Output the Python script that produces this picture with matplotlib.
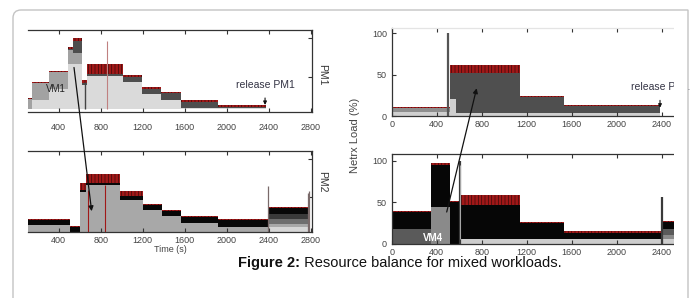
import numpy as np
import matplotlib
matplotlib.use('Agg')
import matplotlib.pyplot as plt
from matplotlib.patches import Rectangle, ConnectionPatch, PathPatch
from matplotlib.path import Path
from matplotlib.transforms import IdentityTransform
from matplotlib.text import Annotation

plt.rcParams['font.family'] = ['Liberation Sans', 'DejaVu Sans']
plt.rcParams['hatch.linewidth'] = 0.5

# ---------------- data ----------------
# PM1 CPU stack (top-left)
pm1_edges = [108, 150, 310, 490, 535, 620, 670, 1010, 1195, 1375, 1560, 1920, 2375]
pm1_light = [9, 21, 35, 66, 66, 40, 51, 43, 28, 20, 10, 10]
pm1_gray = [22, 42, 56, 84, 80, 40, 51, 43, 28, 20, 10, 10]
pm1_dark = [22, 42, 56, 86, 96, 42, 54, 50, 35, 29, 18, 12]
pm1_red = [23, 44, 58, 88, 100, 46, 66, 52, 37, 31, 20, 13.5]
pm1_floor = 9
pm1_spike_t = [655, 860]
pm1_spike_v = [44, 96]

# PM2 CPU stack (bottom-left)
pm2_edges = [108, 510, 600, 660, 985, 1200, 1380, 1560, 1920, 2390, 2790]
pm2_light = [5, 5, 5, 5, 5, 5, 5, 5, 5, 12]
pm2_gray = [14, 5, 57, 66, 46, 34, 26, 17, 12, 16]
pm2_dgray = [14, 5, 57, 66, 46, 34, 26, 17, 12, 22]
pm2_vdark = [14, 5, 57, 66, 46, 34, 26, 17, 12, 28]
pm2_black = [20, 12, 60, 68, 52, 40, 32.6, 24, 20, 36]
pm2_red = [21.5, 12.5, 68, 80, 58, 41.5, 34, 25.5, 21.5, 37.5]
pm2_floor = 5
pm2_redspike_t = [680, 840]
pm2_redspike_v = [60, 66]
pm2_spike_t = [2395, 2770, 2785]
pm2_spike_v = [64, 56, 58]

# PM1 network load (top-right)
tr_edges = [0, 515, 575, 1140, 1530, 2385]
tr_light = [5, 20, 3.5, 3.5, 3.5]
tr_gray = [9.3, 20, 3.5, 3.5, 3.5]
tr_dark = [9.3, 52, 52, 23, 11.5]
tr_red = [10.5, 62, 62, 24.5, 13]
tr_spike_t = [503]
tr_spike_v = [100]

# PM2 network load (bottom-right)
br_edges = [0, 345, 520, 615, 1140, 1530, 2390, 2410, 2600]
br_light = [0, 0, 0, 5, 5, 5, 5, 5]
br_mid = [0, 44, 0, 5, 5, 5, 5, 10]
br_dark = [18, 44, 0, 5, 5, 5, 5, 18]
br_black = [38, 95, 50, 47, 25, 13, 13, 26]
br_red = [39.5, 97, 51, 58, 26.5, 14.5, 14.5, 27.5]
br_spike_t = [610, 2400]
br_spike_v = [99, 56]

left_ticks = [400, 800, 1200, 1600, 2000, 2400, 2800]
right_ticks = [0, 400, 800, 1200, 1600, 2000, 2400]
net_yticks = [0, 50, 100]

RED = '#a01818'

# ---------------- figure ----------------
W, H = 695, 298
fig = plt.figure(figsize=(W / 100, H / 100), dpi=100)
fig.patch.set_facecolor('white')


def px_axes(x0, y0, x1, y1):
    return fig.add_axes([x0 / W, 1 - y1 / H, (x1 - x0) / W, (y1 - y0) / H])


def stack(ax, edges, layers, colors, floor, red):
    x = np.asarray(edges, float)
    prev = np.full(len(x), float(floor))
    for tops, c in zip(layers, colors):
        y = np.append(np.asarray(tops, float), tops[-1])
        ax.fill_between(x, prev, y, step='post', color=c, lw=0)
        prev = y
    r = np.append(np.asarray(red, float), red[-1])
    ax.fill_between(x, prev, r, step='post', facecolor=RED, edgecolor='#3a0a0a',
                    hatch='|||||', lw=0)


def style(ax, ticks):
    for s in ax.spines.values():
        s.set_color('#333333')
        s.set_linewidth(0.9)
    ax.set_xticks(ticks)
    ax.tick_params(direction='in', length=3, width=0.8, color='#333333',
                   labelsize=6.5, labelcolor='#444444')


# top-left PM1
ax_tl = px_axes(28, 30, 312, 112)
stack(ax_tl, pm1_edges, [pm1_light, pm1_gray, pm1_dark],
      ['#dadada', '#a2a2a2', '#4e4e4e'], pm1_floor, pm1_red)
ax_tl.vlines(pm1_spike_t[0], pm1_floor, pm1_spike_v[0], color='#444444', lw=1.0)
ax_tl.vlines(pm1_spike_t[1], pm1_floor, pm1_spike_v[1], color='#c08080', lw=0.8)
ax_tl.set_xlim(108, 2812)
ax_tl.set_ylim(5, 110)
style(ax_tl, left_ticks)
ax_tl.spines['left'].set_visible(False)
ax_tl.tick_params(axis='x', top=True, bottom=True, pad=8)
ax_tl.set_yticks([50, 100])
ax_tl.tick_params(axis='y', left=False, right=True, labelleft=False, labelright=False)
ax_tl.text(374, 34, 'VM1', fontsize=7, color='#222222', ha='center', va='center')
ax_tl.annotate('release PM1', xy=(2365, 14), xytext=(2365, 40), fontsize=7.5,
               color='#333344', ha='center', va='center',
               arrowprops=dict(arrowstyle='-|>', color='#111111', lw=0.8,
                               mutation_scale=5, shrinkA=4, shrinkB=0))

# bottom-left PM2
ax_bl = px_axes(28, 151, 312, 232)
stack(ax_bl, pm2_edges, [pm2_light, pm2_gray, pm2_dgray, pm2_vdark, pm2_black],
      ['#d6d6d6', '#a8a8a8', '#6e6e6e', '#3a3a3a', '#080808'], pm2_floor, pm2_red)
ax_bl.vlines(pm2_redspike_t, pm2_floor, pm2_redspike_v, color=RED, lw=0.8)
ax_bl.vlines(pm2_spike_t, pm2_floor, pm2_spike_v, color='#7a6a6a', lw=0.9)
ax_bl.set_xlim(108, 2812)
ax_bl.set_ylim(5, 110)
style(ax_bl, left_ticks)
ax_bl.spines['left'].set_visible(False)
ax_bl.tick_params(axis='x', top=True, bottom=True, pad=3)
ax_bl.set_yticks([50, 100])
ax_bl.tick_params(axis='y', left=False, right=True, labelleft=False, labelright=False)
ax_bl.set_xlabel('Time (s)', fontsize=6.5, color='#444444', labelpad=0)

# top-right network PM1
ax_tr = px_axes(391.7, 28.3, 684.2, 116)
stack(ax_tr, tr_edges, [tr_light, tr_gray, tr_dark],
      ['#cfcfcf', '#8e8e8e', '#4f4f4f'], 0, tr_red)
ax_tr.vlines(tr_spike_t, 0, tr_spike_v, color='#555555', lw=1.6)
ax_tr.set_xlim(0, 2600)
ax_tr.set_ylim(0, 106)
style(ax_tr, right_ticks)
ax_tr.set_yticks(net_yticks)
ax_tr.spines['top'].set_color('#e4e4e4')
ax_tr.spines['right'].set_visible(False)
ax_tr.tick_params(axis='x', top=True, pad=3)
ax_tr.annotate('release PM1', xy=(2385, 10), xytext=(2385, 35), fontsize=7.5,
               color='#333344', ha='center', va='center',
               arrowprops=dict(arrowstyle='-|>', color='#111111', lw=0.8,
                               mutation_scale=5, shrinkA=4, shrinkB=0))

# bottom-right network PM2
ax_br = px_axes(391.7, 154, 684.2, 243.5)
stack(ax_br, br_edges, [br_light, br_mid, br_dark, br_black],
      ['#cdcdcd', '#8a8a8a', '#5a5a5a', '#060606'], 0, br_red)
ax_br.vlines(br_spike_t, 0, br_spike_v, color='#3a3a3a', lw=1.6)
ax_br.vlines(br_spike_t[0], 5, br_spike_v[0] - 4, color='#bbbbbb', lw=0.6)
ax_br.set_xlim(0, 2600)
ax_br.set_ylim(0, 108)
style(ax_br, right_ticks)
ax_br.set_yticks(net_yticks)
ax_br.spines['right'].set_visible(False)
ax_br.tick_params(axis='x', top=True, pad=3)
ax_br.text(367, 6.5, 'VM4', fontsize=7, color='white', fontweight='bold',
           ha='center', va='center')

# arrows across panels
fig.add_artist(ConnectionPatch(xyA=(546, 62), coordsA=ax_tl.transData,
                               xyB=(714, 32), coordsB=ax_bl.transData,
                               arrowstyle='-|>', mutation_scale=7, lw=0.9,
                               color='#111111'))
fig.add_artist(ConnectionPatch(xyA=(489, 38), coordsA=ax_br.transData,
                               xyB=(755, 33.5), coordsB=ax_tr.transData,
                               arrowstyle='-|>', mutation_scale=7, lw=0.9,
                               color='#111111'))

# side labels
fig.text(322 / W, 1 - 75 / H, 'PM1', rotation=-90, fontsize=7.5, color='#333333',
         ha='center', va='center')
fig.text(322 / W, 1 - 182 / H, 'PM2', rotation=-90, fontsize=7.5, color='#333333',
         ha='center', va='center')
fig.text(355 / W, 1 - 135 / H, 'Netrx Load (%)', rotation=90, fontsize=8,
         color='#444444', ha='center', va='center')

# crop + frame (open at the bottom)
fig.add_artist(Rectangle((673.5, 0), 14, H - 10.5, transform=IdentityTransform(),
                         facecolor='white', edgecolor='none', zorder=5))
top = H - 10
frame = Path([(13, -5), (13, top - 8), (13, top), (21, top), (688, top), (688, -5)],
             [Path.MOVETO, Path.LINETO, Path.CURVE3, Path.CURVE3, Path.LINETO,
              Path.LINETO])
fig.add_artist(PathPatch(frame, transform=IdentityTransform(), facecolor='none',
                         edgecolor='#c4c4c4', lw=1.0, zorder=6))

# caption
t1 = fig.text(238 / W, 1 - 263 / H, 'Figure 2:', fontsize=10.5, fontweight='bold',
              color='#111111', ha='left', va='center')
fig.add_artist(Annotation(' Resource balance for mixed workloads.', xy=(1, 0.5),
                          xycoords=t1, va='center', ha='left', fontsize=10.5,
                          color='#111111', annotation_clip=False))

fig.savefig('out.png', dpi=100, facecolor='white')
